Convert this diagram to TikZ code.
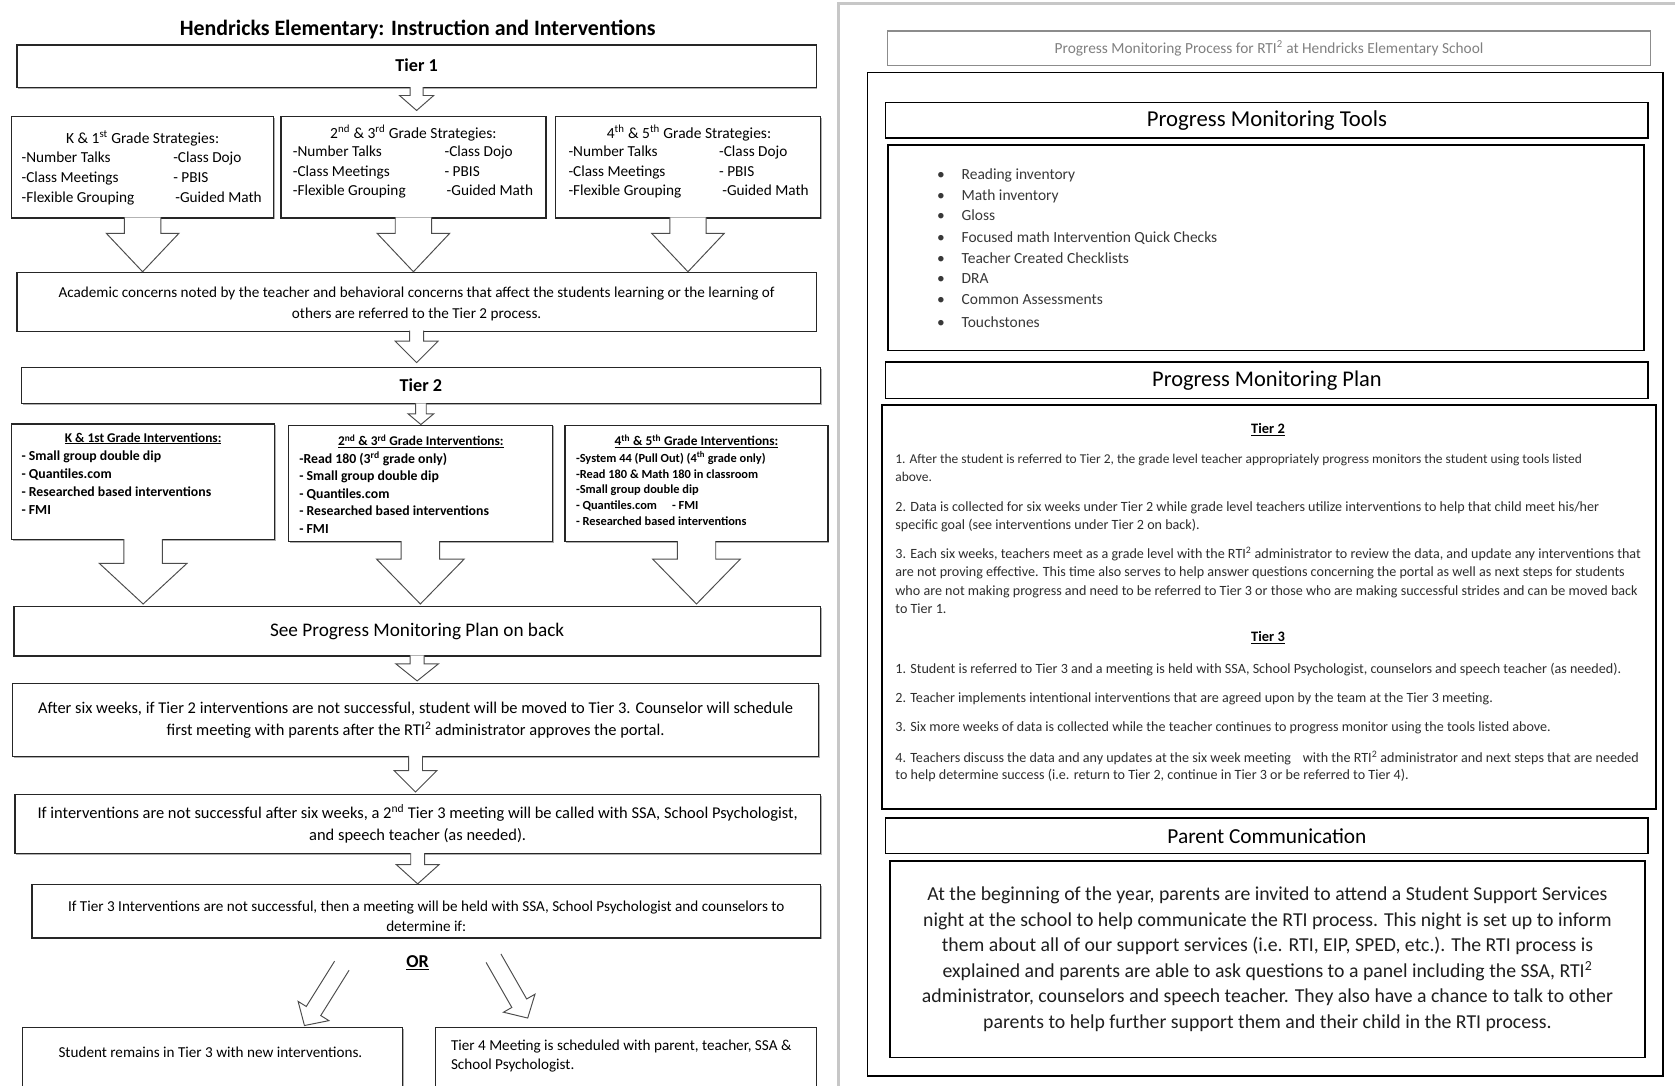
\documentclass[tikz,border=0pt]{standalone}
\usepackage{fontspec}
\setmainfont{Carlito}
\usetikzlibrary{calc,shadows}

\tikzset{
  lbox/.style={draw=black!85, line width=1.2pt, fill=white, inner sep=0pt, align=center,
    drop shadow={shadow xshift=1.2pt, shadow yshift=-1.2pt, opacity=0.45, fill=black!70}},
  rbox/.style={draw=black, line width=1.6pt, inner sep=0pt, align=center},
  barrow/.style={draw=black!70, line width=0.9pt, fill=white, line join=miter},
  txt/.style={inner sep=0pt, text=black},
  lst/.style={inner sep=0pt, anchor=north west, align=left},
  item/.style={inner sep=0pt, anchor=mid west, text=black!78, font=\fontsize{14.5}{17}\selectfont},
  plan/.style={inner sep=0pt, anchor=north west, align=left, text=black!82, font=\fontsize{13.2}{17}\selectfont},
}

% box from (x1,y1) to (x2,y2), y growing downwards
\newcommand\bx[7][]{%
  \node[lbox, #1, minimum width={(#5-#3)*1pt}, minimum height={(#6-#4)*1pt}] (#2) at ({(#3+#5)/2},{(#4+#6)/2}) {#7};}
\newcommand\rbx[7][]{%
  \node[rbox, #1, minimum width={(#5-#3)*1pt}, minimum height={(#6-#4)*1pt}] (#2) at ({(#3+#5)/2},{(#4+#6)/2}) {#7};}

% block arrow: start, tip, half shaft width, half head width, head length
\newcommand\barw[5]{%
  \coordinate (tmpB) at ($(#2)!#5pt!(#1)$);
  \draw[barrow] ($(#1)!#3pt!90:(#2)$) -- ($(tmpB)!#3pt!90:(#2)$) -- ($(tmpB)!#4pt!90:(#2)$) -- (#2)
     -- ($(tmpB)!#4pt!-90:(#2)$) -- ($(tmpB)!#3pt!-90:(#2)$) -- ($(#1)!#3pt!-90:(#2)$);}

\begin{document}
\begin{tikzpicture}[x=1pt, y=-1pt]
\useasboundingbox (0,0) rectangle (1568,1016);
\clip (0,0) rectangle (1568,1016);
\fill[white] (0,0) rectangle (1568,1016);

%================ LEFT PAGE =================
\node[txt, font=\bfseries\fontsize{20.5}{24}\selectfont] (title) at (391,28) {Hendricks Elementary: Instruction and Interventions};

\bx[font=\bfseries\fontsize{17}{20}\selectfont]{t1}{16}{42}{764}{82}{\raisebox{2pt}{Tier 1}}

% strategies
\bx{sA}{11}{109}{256}{204}{}
\bx{sB}{263}{109}{511}{204}{}
\bx{sC}{520}{109}{768}{204}{}
\node[txt, font=\fontsize{14.5}{18}\selectfont] (sAh) at (133.5,129.5) {K \& 1\textsuperscript{st} Grade Strategies:};
\node[txt, font=\fontsize{14.5}{18}\selectfont] (sBh) at (387,124.5) {2\textsuperscript{nd} \& 3\textsuperscript{rd} Grade Strategies:};
\node[txt, font=\fontsize{14.5}{18}\selectfont] (sCh) at (645,124.5) {4\textsuperscript{th} \& 5\textsuperscript{th} Grade Strategies:};
\node[lst, font=\fontsize{14.3}{18.5}\selectfont] (sAl) at (20,142) {-Number Talks\\-Class Meetings\\-Flexible Grouping};
\node[lst, font=\fontsize{14.3}{18.5}\selectfont] (sAr) at (162,142) {-Class Dojo\\- PBIS\\\hspace{2pt}-Guided Math};
\node[lst, font=\fontsize{14.3}{18.2}\selectfont] (sBl) at (274,136.5) {-Number Talks\\-Class Meetings\\-Flexible Grouping};
\node[lst, font=\fontsize{14.3}{18.2}\selectfont] (sBr) at (416,136.5) {-Class Dojo\\- PBIS\\\hspace{2pt}-Guided Math};
\node[lst, font=\fontsize{14.3}{18.2}\selectfont] (sCl) at (532,136.5) {-Number Talks\\-Class Meetings\\-Flexible Grouping};
\node[lst, font=\fontsize{14.3}{18.2}\selectfont] (sCr) at (673,136.5) {-Class Dojo\\- PBIS\\\hspace{3pt}-Guided Math};

\bx{acad}{16}{255}{764}{310}{}
\node[txt, align=center, font=\fontsize{14.2}{19}\selectfont] (acadt) at (390,284.5) {Academic concerns noted by the teacher and behavioral concerns that affect the students learning or the learning of\\others are referred to the Tier 2 process.};

\bx[font=\bfseries\fontsize{17}{20}\selectfont]{t2}{20}{344}{768}{378}{\raisebox{-1pt}{Tier 2}}

% interventions
\bx{iD}{11}{397}{257}{505}{}
\bx{iE}{270}{398}{517}{507}{}
\bx{iF}{529}{398}{775}{507}{}
\node[txt, font=\bfseries\fontsize{12.5}{15}\selectfont] (iDh) at (134,410.5) {\underline{K \& 1st Grade Interventions:}};
\node[txt, font=\bfseries\fontsize{12.5}{15}\selectfont] (iEh) at (394,413) {\underline{2\textsuperscript{nd} \& 3\textsuperscript{rd} Grade Interventions:}};
\node[txt, font=\bfseries\fontsize{12.5}{15}\selectfont] (iFh) at (652,413) {\underline{4\textsuperscript{th} \& 5\textsuperscript{th} Grade Interventions:}};
\node[lst, font=\bfseries\fontsize{12.9}{16.7}\selectfont] (iDl) at (20,422) {- Small group double dip\\- Quantiles.com\\- Researched based interventions\\- FMI};
\node[lst, font=\bfseries\fontsize{12.9}{16.3}\selectfont] (iEl) at (280,423) {-Read 180 (3\textsuperscript{rd} grade only)\\- Small group double dip\\- Quantiles.com\\- Researched based interventions\\- FMI};
\node[lst, font=\bfseries\fontsize{11.6}{14.75}\selectfont] (iFl) at (539,422.6) {-System 44 (Pull Out) (4\textsuperscript{th} grade only)\\-Read 180 \& Math 180 in classroom\\-Small group double dip\\- Quantiles.com\hspace{14pt}- FMI\\- Researched based interventions};

\bx[font=\fontsize{18}{22}\selectfont]{see}{13}{568}{768}{614}{See Progress Monitoring Plan on back}

\bx[font=\fontsize{15.4}{21}\selectfont]{after}{12}{640}{766}{708}{After six weeks, if Tier 2 interventions are not successful, student will be moved to Tier 3. Counselor will schedule\\first meeting with parents after the RTI\textsuperscript{2} administrator approves the portal.}

\bx[font=\fontsize{15.4}{21}\selectfont]{second}{14}{744}{768}{799}{If interventions are not successful after six weeks, a 2\textsuperscript{nd} Tier 3 meeting will be called with SSA, School Psychologist,\\and speech teacher (as needed).}

\bx{ift3}{30}{828}{768}{878}{}
\node[txt, align=center, font=\fontsize{14.2}{19}\selectfont] (ift3t) at (399,857.5) {If Tier 3 Interventions are not successful, then a meeting will be held with SSA, School Psychologist and counselors to\\determine if:};

\node[txt, font=\bfseries\fontsize{17}{20}\selectfont] (or) at (391,901) {\underline{OR}};

\bx{bl}{21}{962}{377}{1040}{}
\bx{br}{408}{962}{764}{1040}{}
\node[txt, font=\fontsize{14.2}{18}\selectfont] (blt) at (197,985) {Student remains in Tier 3 with new interventions.};
\node[lst, font=\fontsize{14.2}{18}\selectfont] (brt) at (422,973.5) {Tier 4 Meeting is scheduled with parent, teacher, SSA \&\\School Psychologist.};

% ---- block arrows ----
\coordinate (a1s) at ($(t1.south)+(0,-1)$);
\coordinate (a1t) at ($(sB.north -| t1.south)+(0,-5)$);
\barw{a1s}{a1t}{6}{16}{14}

\coordinate (aAs) at ($(sA.south)+(0,-1)$);
\coordinate (aAt) at (acad.north -| sA.south);
\barw{aAs}{aAt}{17}{34}{36}
\coordinate (aBs) at ($(sB.south)+(0,-1)$);
\coordinate (aBt) at (acad.north -| sB.south);
\barw{aBs}{aBt}{17}{34}{36}
\coordinate (aCs) at ($(sC.south)+(0,-1)$);
\coordinate (aCt) at (acad.north -| sC.south);
\barw{aCs}{aCt}{17}{34}{36}

\coordinate (a2s) at ($(acad.south)+(0,-1)$);
\coordinate (a2t) at ($(t2.north -| acad.south)+(0,-4)$);
\barw{a2s}{a2t}{6.5}{20}{20}

\coordinate (a3s) at ($(t2.south)+(0,-1)$);
\coordinate (a3t) at (iE.north -| t2.south);
\barw{a3s}{a3t}{5}{12}{10}

\coordinate (aDs) at ($(iD.south)+(0,-1)$);
\coordinate (aDt) at ($(see.north -| iD.south)+(0,-2)$);
\barw{aDs}{aDt}{18}{41}{38}
\coordinate (aEs) at ($(iE.south)+(0,-1)$);
\coordinate (aEt) at ($(see.north -| iE.south)+(0,-2)$);
\barw{aEs}{aEt}{18}{41}{42}
\coordinate (aFs) at ($(iF.south)+(0,-1)$);
\coordinate (aFt) at ($(see.north -| iF.south)+(0,-2)$);
\barw{aFs}{aFt}{18}{41}{42}

\coordinate (a4s) at ($(see.south)+(0,-1)$);
\coordinate (a4t) at ($(after.north -| see.south)+(0,-2)$);
\barw{a4s}{a4t}{6.5}{20}{16}

\coordinate (a5s) at ($(after.south)+(0,-1)$);
\coordinate (a5t) at ($(second.north -| after.south)+(0,-2)$);
\barw{a5s}{a5t}{6.5}{20}{20}

\coordinate (a6s) at ($(second.south)+(0,-1)$);
\coordinate (a6t) at (ift3.north -| second.south);
\barw{a6s}{a6t}{6.5}{20}{18}

\coordinate (dls) at (320,904);
\coordinate (dlt) at (285,960);
\barw{dls}{dlt}{8}{17}{16}
\coordinate (drs) at (462,897);
\coordinate (drt) at (494,953);
\barw{drs}{drt}{8}{17}{16}

%================ RIGHT PAGE =================
\draw[black!22, line width=2.5pt] (785,1030) -- (785,3) -- (1580,3);

\rbx[draw=black!45, line width=1.2pt, text=black!50, font=\fontsize{14.4}{16}\selectfont]{rhead}{831}{29}{1545}{61}{Progress Monitoring Process for RTI\textsuperscript{2} at Hendricks Elementary School}

\rbx{router}{812}{68}{1557}{1007}{}

\rbx[font=\fontsize{21.3}{24}\selectfont]{ptools}{829}{96}{1543}{129}{Progress Monitoring Tools}
\rbx{toolsbox}{831}{136}{1539}{328}{}
\node[item] (tl1) at (877,166) {\makebox[23pt][l]{\textbullet}Reading inventory};
\node[item] (tl2) at (877,185) {\makebox[23pt][l]{\textbullet}Math inventory};
\node[item] (tl3) at (877,204) {\makebox[23pt][l]{\textbullet}Gloss};
\node[item] (tl4) at (877,225) {\makebox[23pt][l]{\textbullet}Focused math Intervention Quick Checks};
\node[item] (tl5) at (877,244) {\makebox[23pt][l]{\textbullet}Teacher Created Checklists};
\node[item] (tl6) at (877,263) {\makebox[23pt][l]{\textbullet}DRA};
\node[item] (tl7) at (877,283) {\makebox[23pt][l]{\textbullet}Common Assessments};
\node[item] (tl8) at (877,304) {\makebox[23pt][l]{\textbullet}Touchstones};

\rbx[font=\fontsize{21}{24}\selectfont]{pplan}{829}{339}{1543}{373}{Progress Monitoring Plan}
\rbx[line width=2pt]{planbox}{826}{379}{1550}{757}{}
\node[txt, font=\bfseries\fontsize{13.5}{16}\selectfont] (pt2) at (1187,402) {\underline{Tier 2}};
\node[plan, font=\fontsize{12.6}{17}\selectfont] (p1) at (838,424.5) {1. After the student is referred to Tier 2, the grade level teacher appropriately progress monitors the student using tools listed\\above.};
\node[plan] (p2) at (838,469) {2. Data is collected for six weeks under Tier 2 while grade level teachers utilize interventions to help that child meet his/her\\specific goal (see interventions under Tier 2 on back).};
\node[plan, font=\fontsize{13.2}{17.3}\selectfont] (p3) at (838,512) {3. Each six weeks, teachers meet as a grade level with the RTI\textsuperscript{2} administrator to review the data, and update any interventions that\\are not proving effective. This time also serves to help answer questions concerning the portal as well as next steps for students\\who are not making progress and need to be referred to Tier 3 or those who are making successful strides and can be moved back\\to Tier 1.};
\node[txt, font=\bfseries\fontsize{13.5}{16}\selectfont] (pt3) at (1187,597) {\underline{Tier 3}};
\node[plan] (q1) at (838,621) {1. Student is referred to Tier 3 and a meeting is held with SSA, School Psychologist, counselors and speech teacher (as needed).};
\node[plan] (q2) at (838,648) {2. Teacher implements intentional interventions that are agreed upon by the team at the Tier 3 meeting.};
\node[plan] (q3) at (838,675) {3. Six more weeks of data is collected while the teacher continues to progress monitor using the tools listed above.};
\node[plan, font=\fontsize{13.2}{16.5}\selectfont] (q4) at (838,703) {4. Teachers discuss the data and any updates at the six week meeting\hspace{8pt} with the RTI\textsuperscript{2} administrator and next steps that are needed\\to help determine success (i.e. return to Tier 2, continue in Tier 3 or be referred to Tier 4).};

\rbx[font=\fontsize{20}{24}\selectfont]{pcomm}{829}{766}{1543}{799}{Parent Communication}
\rbx[text=black!88, font=\fontsize{18.5}{23.8}\selectfont]{pbox}{833}{806}{1540}{990}{At the beginning of the year, parents are invited to attend a Student Support Services\\night at the school to help communicate the RTI process. This night is set up to inform\\them about all of our support services (i.e. RTI, EIP, SPED, etc.). The RTI process is\\explained and parents are able to ask questions to a panel including the SSA, RTI\textsuperscript{2}\\administrator, counselors and speech teacher. They also have a chance to talk to other\\parents to help further support them and their child in the RTI process.}

\end{tikzpicture}
\end{document}
